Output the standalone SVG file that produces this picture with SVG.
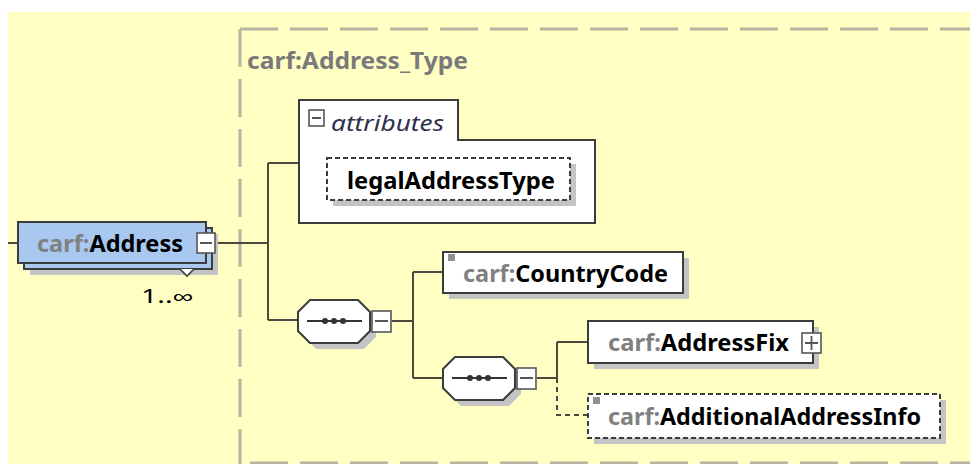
<svg xmlns="http://www.w3.org/2000/svg" width="970" height="464" viewBox="0 0 970 464">
<defs>
<style>
.t{font-family:"Noto Sans","Liberation Sans",sans-serif;font-size:23px;font-weight:bold;fill:#000}
.p{fill:#808080}
.box{fill:#fff;stroke:#3c3c3c;stroke-width:2}
.dbox{fill:#fff;stroke:#3c3c3c;stroke-width:2;stroke-dasharray:5 3}
.sh{fill:#c4c4c4}
.ln{fill:none;stroke:#4a4a40;stroke-width:2}
.dln{fill:none;stroke:#4a4a40;stroke-width:2;stroke-dasharray:5 4}
.ic{fill:#fff;stroke:#555;stroke-width:1.6}
.frame{fill:none;stroke:#b4b4a0;stroke-width:3;stroke-dasharray:38 12}
</style>
</defs>
<rect x="0" y="0" width="970" height="464" fill="#fff"/>
<rect x="8" y="12" width="962" height="452" fill="#ffffc4"/>
<g id="frame">
<path class="frame" d="M240,29 H970"/>
<path class="frame" d="M240,29 V464"/>
<path class="frame" d="M250,463 H970"/>
<text x="247" y="69" class="t" style="fill:#7a7a7a;font-size:24px" textLength="221" lengthAdjust="spacingAndGlyphs">carf:Address_Type</text>
</g>
<g id="connectors">
<path class="ln" d="M8,243 H18"/>
<path class="ln" d="M218,243 H268"/>
<path class="ln" d="M268,163 V320"/>
<path class="ln" d="M268,163 H299"/>
<path class="ln" d="M268,320 H298"/>
<path class="ln" d="M392,321 H413"/>
<path class="ln" d="M413,272 V378"/>
<path class="ln" d="M413,272 H443"/>
<path class="ln" d="M413,378 H443"/>
<path class="ln" d="M537,378 H557"/>
<path class="ln" d="M557,342 V378"/>
<path class="ln" d="M557,342 H588"/>
<path class="dln" d="M557,378 V415 H588"/>
</g>
<g id="node-address">
<rect class="sh" x="30" y="234" width="188" height="41"/>
<rect x="24" y="228" width="188" height="41" fill="#a8c8f0" stroke="#3c3c3c" stroke-width="2"/>
<rect x="18" y="222" width="188" height="41" fill="#a8c8f0" stroke="#3c3c3c" stroke-width="2"/>
<path d="M180,269 L187,276 L194,269" fill="#fff" stroke="#3c3c3c" stroke-width="1.6"/>
<text x="37" y="252" class="t" textLength="146" lengthAdjust="spacingAndGlyphs"><tspan class="p">carf:</tspan>Address</text>
<rect class="ic" x="197" y="233" width="18" height="20"/>
<path d="M200,243 H212" stroke="#555" stroke-width="2"/>
<text x="141" y="303" style="font-family:'Noto Sans','Liberation Sans',sans-serif;font-size:19px;fill:#000" textLength="52" lengthAdjust="spacingAndGlyphs">1..∞</text>
</g>
<g id="node-attributes">
<path class="box" d="M299,223 V100 H458 V140 H595 V223 Z"/>
<rect class="ic" x="309" y="110" width="15" height="16"/>
<path d="M312,118 H321" stroke="#555" stroke-width="2"/>
<text x="331" y="131" style="font-family:'Noto Sans','Liberation Sans',sans-serif;font-size:22px;font-style:italic;fill:#303050" textLength="113" lengthAdjust="spacingAndGlyphs">attributes</text>
</g>
<g id="node-legalAddressType">
<rect class="sh" x="333" y="164" width="243" height="42"/>
<rect class="dbox" x="327" y="158" width="243" height="42"/>
<text x="347" y="189" class="t" textLength="208" lengthAdjust="spacingAndGlyphs">legalAddressType</text>
</g>
<g id="node-seq1">
<polygon class="sh" points="316,306 364,306 376,318 376,337 364,349 316,349 304,337 304,318"/>
<polygon class="box" points="310,300 358,300 370,312 370,331 358,343 310,343 298,331 298,312"/>
<path d="M307,321 H362" stroke="#333" stroke-width="2"/>
<circle cx="325" cy="321" r="3" fill="#333"/><circle cx="334" cy="321" r="3" fill="#333"/><circle cx="343" cy="321" r="3" fill="#333"/>
<rect class="ic" x="372" y="311" width="19" height="21"/>
<path d="M375,321 H388" stroke="#555" stroke-width="2"/>
</g>
<g id="node-countrycode">
<rect class="sh" x="449" y="258" width="240" height="41"/>
<rect class="box" x="443" y="252" width="240" height="41"/>
<rect x="448" y="254" width="7" height="7" fill="#909090"/>
<text x="463" y="282" class="t" textLength="205" lengthAdjust="spacingAndGlyphs"><tspan class="p">carf:</tspan>CountryCode</text>
</g>
<g id="node-seq2">
<polygon class="sh" points="461,363 509,363 521,375 521,394 509,406 461,406 449,394 449,375"/>
<polygon class="box" points="455,357 503,357 515,369 515,388 503,400 455,400 443,388 443,369"/>
<path d="M452,378 H507" stroke="#333" stroke-width="2"/>
<circle cx="470" cy="378" r="3" fill="#333"/><circle cx="479" cy="378" r="3" fill="#333"/><circle cx="488" cy="378" r="3" fill="#333"/>
<rect class="ic" x="517" y="368" width="19" height="21"/>
<path d="M520,378 H533" stroke="#555" stroke-width="2"/>
</g>
<g id="node-addressfix">
<rect class="sh" x="594" y="327" width="225" height="42"/>
<rect class="box" x="588" y="321" width="225" height="42"/>
<text x="608" y="351" class="t" textLength="181" lengthAdjust="spacingAndGlyphs"><tspan class="p">carf:</tspan>AddressFix</text>
<rect class="ic" x="802" y="333" width="19" height="20"/>
<path d="M805,343 H818 M811.5,336 V350" stroke="#555" stroke-width="1.8"/>
</g>
<g id="node-additional">
<rect class="sh" x="594" y="400" width="352" height="44"/>
<rect class="dbox" x="588" y="394" width="352" height="44"/>
<rect x="593" y="397" width="7" height="7" fill="#909090"/>
<text x="608" y="425" class="t" textLength="313" lengthAdjust="spacingAndGlyphs"><tspan class="p">carf:</tspan>AdditionalAddressInfo</text>
</g>
</svg>
